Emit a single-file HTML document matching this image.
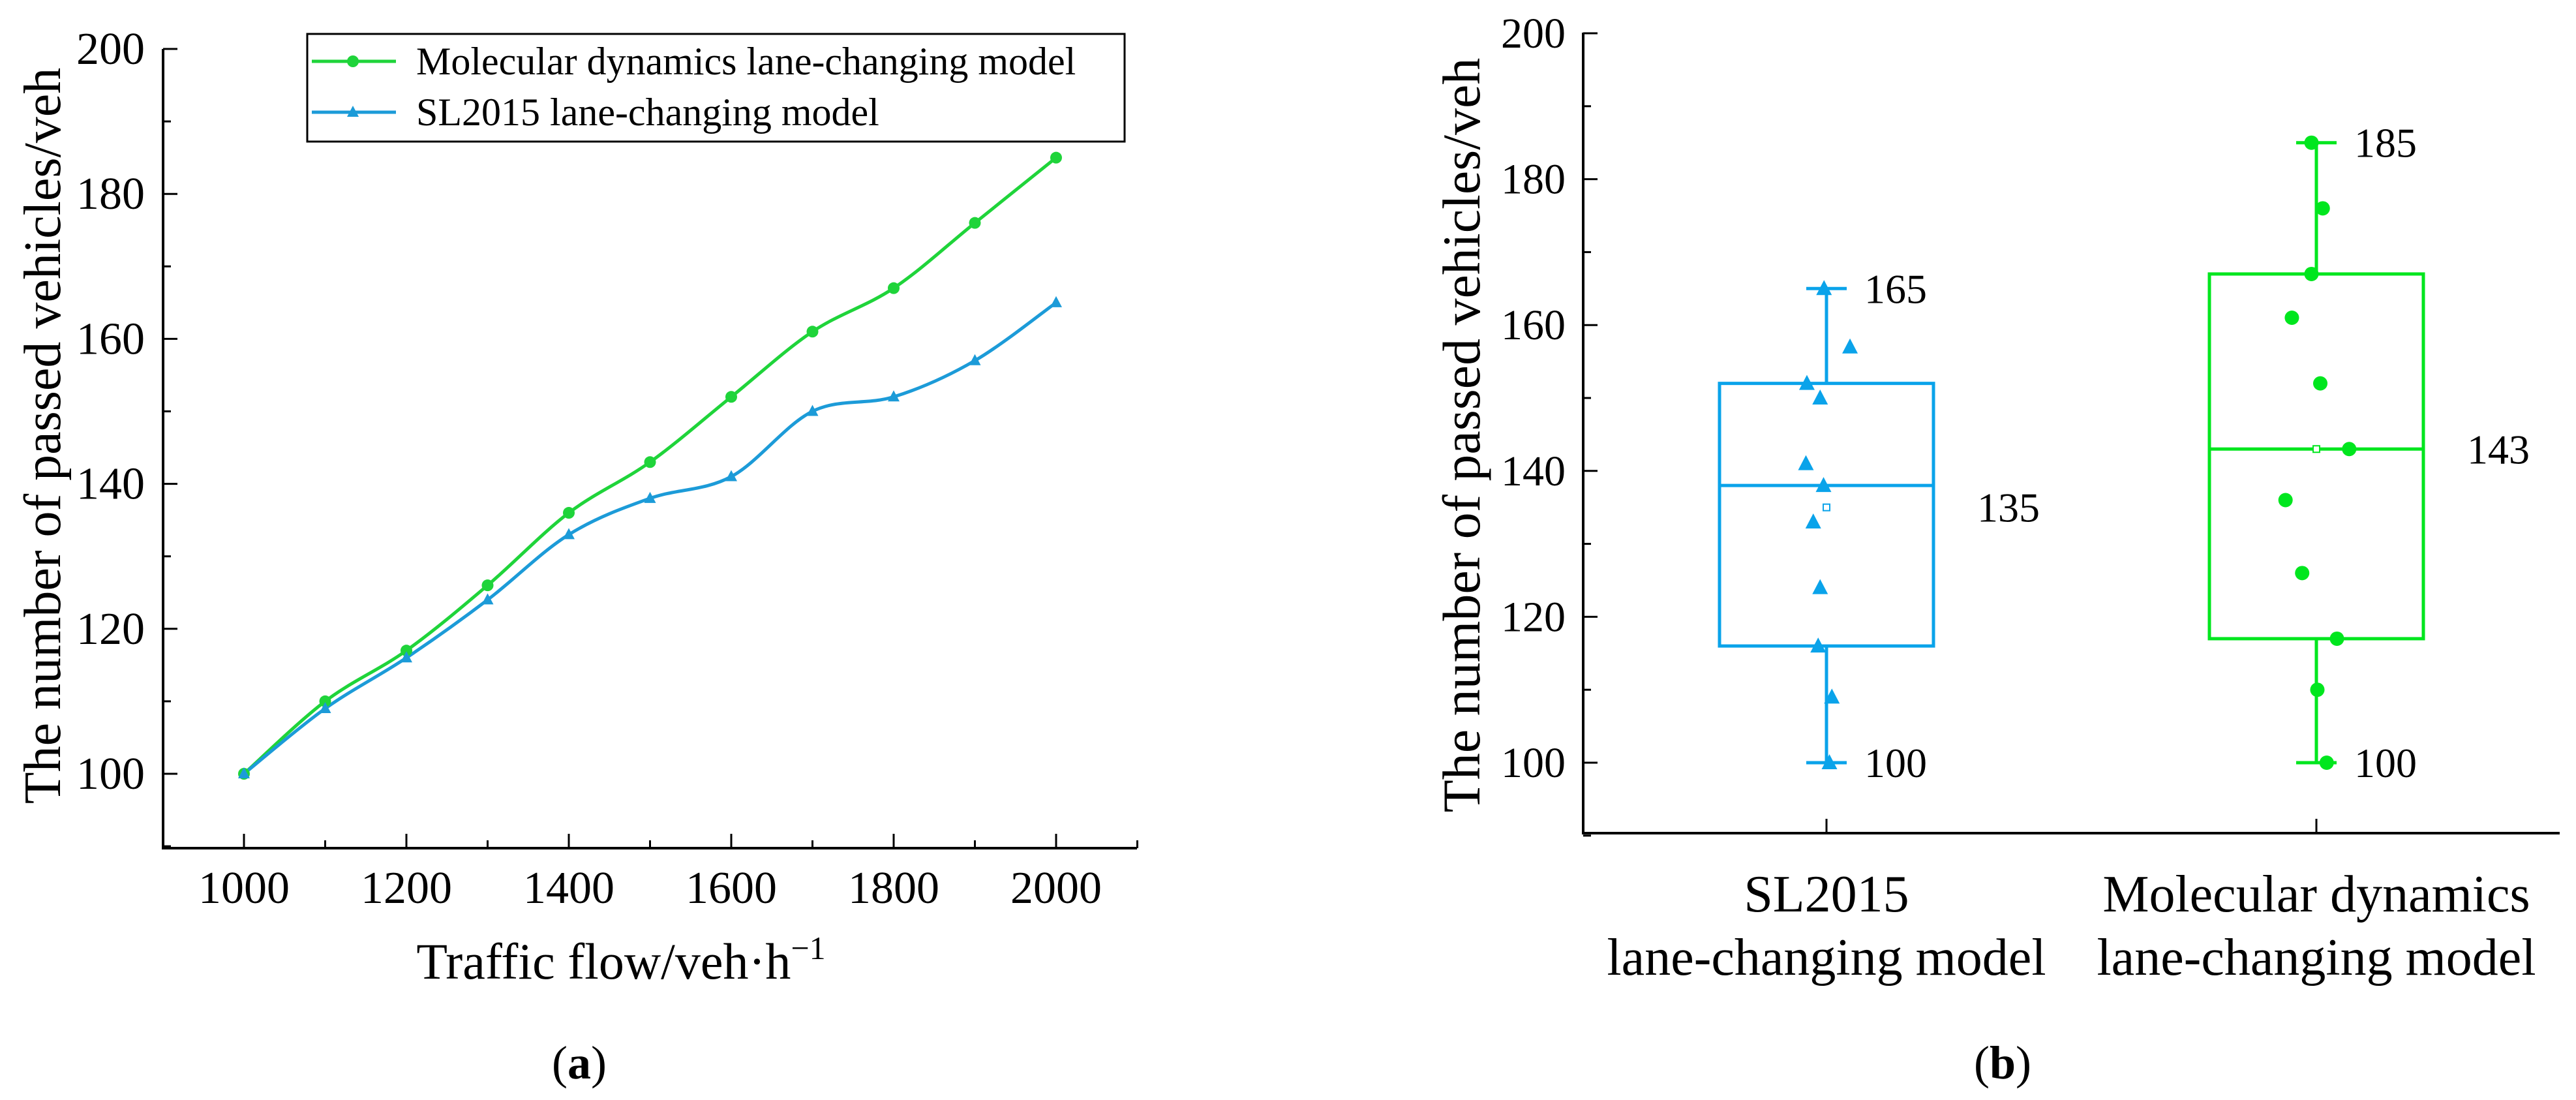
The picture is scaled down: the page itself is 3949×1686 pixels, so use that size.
<!DOCTYPE html>
<html><head><meta charset="utf-8"><style>
html,body{margin:0;padding:0;background:#fff;}
svg, svg text, svg tspan{font-family:"Liberation Serif","Times New Roman",serif !important;}
</style></head><body>
<svg id="fig" width="3949" height="1681" viewBox="0 0 3949 1681" xmlns="http://www.w3.org/2000/svg" font-family="Liberation Serif, serif">
<g id="chartA"></g>
<g id="chartB"></g>
</svg>
<script>
// ---- Chart (a) data ----
const flowValues = [1000,1100,1200,1300,1400,1500,1600,1700,1800,1900,2000];
const mdSeries = [100,110,117,126,136,143,152,161,167,176,185];
const slSeries = [100,109,116,124,133,138,141,150,152,157,165];
const xTicksA = [1000,1200,1400,1600,1800,2000];
const yTicksA = [100,120,140,160,180,200];
// ---- Chart (b) data ----
const boxCategories = ["SL2015", "Molecular dynamics"];
const boxMin = [100,100];
const boxQ1 = [116,117];
const boxMedian = [138,143];
const boxQ3 = [152,167];
const boxMax = [165,185];
const boxMean = [135,143];
const slPoints = [165,157,152,150,141,138,133,124,116,109,100];
const slJitter = [-0.005,0.048,-0.04,-0.013,-0.042,-0.006,-0.027,-0.013,-0.017,0.011,0.006];
const mdPoints = [185,176,167,161,152,143,136,126,117,110,100];
const mdJitter = [-0.01,0.013,-0.01,-0.05,0.008,0.067,-0.063,-0.029,0.042,0.002,0.021];
const yTicksB = [100,120,140,160,180,200];

const NS="http://www.w3.org/2000/svg";
function mk(parent,tag,attrs,text){const e=document.createElementNS(NS,tag);for(const k in attrs)e.setAttribute(k,attrs[k]);if(tag==='text')e.setAttribute('font-family','Liberation Serif, serif');if(text!==undefined)e.textContent=text;parent.appendChild(e);return e;}

const GREEN_A="#1fd43a", BLUE_A="#1c9bd8", GREEN_B="#00e61e", BLUE_B="#0aa3ea";

// ===== Chart A =====
(function(){
const g=document.getElementById('chartA');
const x=v=>374+(v-1000)*1.245;
const y=v=>1186-(v-100)*11.11;
let e=mk(g,'line',{x1:250,y1:75,x2:250,y2:1300,stroke:'#000','stroke-width':4});

e=mk(g,'line',{x1:248,y1:1300,x2:1743,y2:1300,stroke:'#000','stroke-width':4});

for(let v=90;v<=200;v+=10){const maj=v%20===0;mk(g,'line',{x1:250,y1:y(v),x2:250+(maj?22:12),y2:y(v),stroke:'#000','stroke-width':3});}
yTicksA.forEach(v=>{const t=mk(g,'text',{x:222,y:y(v)+23,'text-anchor':'end','font-size':70},String(v));
});
for(let v=900;v<=2100;v+=100){const maj=v%200===0;mk(g,'line',{x1:x(v),y1:1300,x2:x(v),y2:1300-(maj?22:12),stroke:'#000','stroke-width':3});}
xTicksA.forEach(v=>{const t=mk(g,'text',{x:x(v),y:1384,'text-anchor':'middle','font-size':70},String(v));
});
let t=mk(g,'text',{x:0,y:0,'text-anchor':'middle','font-size':80,transform:'translate(92,668) rotate(-90)'},'The number of passed vehicles/veh');

t=mk(g,'text',{x:952,y:1500,'text-anchor':'middle','font-size':78});

t.innerHTML='Traffic flow/veh·h<tspan dy="-30" font-size="50">−1</tspan>';
t=mk(g,'text',{x:888,y:1653,'text-anchor':'middle','font-size':72});

t.innerHTML='(<tspan font-weight="bold">a</tspan>)';
function spline(vals){const p=flowValues.map((f,i)=>[x(f),y(vals[i])]);let d='M'+p[0][0]+','+p[0][1];
for(let i=0;i<p.length-1;i++){const p0=p[Math.max(0,i-1)],p1=p[i],p2=p[i+1],p3=p[Math.min(p.length-1,i+2)];
d+=' C'+(p1[0]+(p2[0]-p0[0])/6)+','+(p1[1]+(p2[1]-p0[1])/6)+' '+(p2[0]-(p3[0]-p1[0])/6)+','+(p2[1]-(p3[1]-p1[1])/6)+' '+p2[0]+','+p2[1];}return d;}
e=mk(g,'path',{d:spline(mdSeries),fill:'none',stroke:GREEN_A,'stroke-width':5});

e=mk(g,'path',{d:spline(slSeries),fill:'none',stroke:BLUE_A,'stroke-width':5});

flowValues.forEach((f,i)=>{
 const c=mk(g,'circle',{cx:x(f),cy:y(mdSeries[i]),r:9,fill:GREEN_A});
 
 const cx=x(f),cy=y(slSeries[i]);
 const p=mk(g,'polygon',{points:(cx-9)+','+(cy+7)+' '+(cx+9)+','+(cy+7)+' '+cx+','+(cy-10),fill:BLUE_A});
 
});
const lg=mk(g,'g',{});

mk(lg,'rect',{x:471,y:52,width:1253,height:165,fill:'#fff',stroke:'#000','stroke-width':3});
mk(lg,'line',{x1:478,y1:94,x2:607,y2:94,stroke:GREEN_A,'stroke-width':5});
mk(lg,'circle',{cx:541,cy:94,r:9,fill:GREEN_A});
mk(lg,'line',{x1:478,y1:172,x2:607,y2:172,stroke:BLUE_A,'stroke-width':5});
mk(lg,'polygon',{points:'532,179 550,179 541,162',fill:BLUE_A});
t=mk(lg,'text',{x:638,y:114,'font-size':60},'Molecular dynamics lane-changing model');

t=mk(lg,'text',{x:638,y:192,'font-size':60},'SL2015 lane-changing model');

})();

// ===== Chart B =====
(function(){
const g=document.getElementById('chartB');
const x=c=>2800+(c-1)*751;
const y=v=>1169-(v-100)*11.18;
let e=mk(g,'line',{x1:2427,y1:50,x2:2427,y2:1279,stroke:'#000','stroke-width':4});

e=mk(g,'line',{x1:2425,y1:1277,x2:3924,y2:1277,stroke:'#000','stroke-width':4});

for(let v=90;v<=200;v+=10){const maj=v%20===0;mk(g,'line',{x1:2427,y1:y(v),x2:2427+(maj?22:12),y2:y(v),stroke:'#000','stroke-width':3});}
yTicksB.forEach(v=>{const t=mk(g,'text',{x:2400,y:y(v)+22,'text-anchor':'end','font-size':66},String(v));
});
let t=mk(g,'text',{x:0,y:0,'text-anchor':'middle','font-size':82,transform:'translate(2268,667) rotate(-90)'},'The number of passed vehicles/veh');

const line2=["lane-changing model","lane-changing model"];
const cols=[BLUE_B,GREEN_B];
const pts=[slPoints,mdPoints], jit=[slJitter,mdJitter];
boxCategories.forEach((cat,i)=>{
 const cx=x(i+1), col=cols[i], hw=164;
 mk(g,'line',{x1:cx,y1:1277,x2:cx,y2:1255,stroke:'#000','stroke-width':3});
 t=mk(g,'text',{x:cx,y:1397,'text-anchor':'middle','font-size':80},cat);
 
 t=mk(g,'text',{x:cx,y:1494,'text-anchor':'middle','font-size':80},line2[i]);
 
 const bg=mk(g,'g',{});
 
 mk(bg,'line',{x1:cx,y1:y(boxMax[i]),x2:cx,y2:y(boxQ3[i]),stroke:col,'stroke-width':5});
 mk(bg,'line',{x1:cx,y1:y(boxQ1[i]),x2:cx,y2:y(boxMin[i]),stroke:col,'stroke-width':5});
 mk(bg,'line',{x1:cx-31,y1:y(boxMax[i]),x2:cx+31,y2:y(boxMax[i]),stroke:col,'stroke-width':5});
 mk(bg,'line',{x1:cx-31,y1:y(boxMin[i]),x2:cx+31,y2:y(boxMin[i]),stroke:col,'stroke-width':5});
 mk(bg,'rect',{x:cx-hw,y:y(boxQ3[i]),width:2*hw,height:y(boxQ1[i])-y(boxQ3[i]),fill:'none',stroke:col,'stroke-width':5});
 mk(bg,'line',{x1:cx-hw,y1:y(boxMedian[i]),x2:cx+hw,y2:y(boxMedian[i]),stroke:col,'stroke-width':5});
 mk(bg,'rect',{x:cx-5,y:y(boxMean[i])-5,width:10,height:10,fill:'#fff',stroke:col,'stroke-width':2});
 pts[i].forEach((v,k)=>{
  const px=x(i+1+jit[i][k]), py=y(v);
  let m;
  if(i===0){m=mk(g,'polygon',{points:(px-12)+','+(py+10)+' '+(px+12)+','+(py+10)+' '+px+','+(py-13),fill:col});}
  else{m=mk(g,'circle',{cx:px,cy:py,r:11,fill:col});}
  
 });
 t=mk(g,'text',{x:cx+58,y:y(boxMax[i])+22,'font-size':64},String(boxMax[i]));
 
 t=mk(g,'text',{x:cx+58,y:y(boxMin[i])+22,'font-size':64},String(boxMin[i]));
 
 t=mk(g,'text',{x:cx+231,y:y(boxMean[i])+22,'font-size':64},String(boxMean[i]));
 
});
t=mk(g,'text',{x:3070,y:1653,'text-anchor':'middle','font-size':72});

t.innerHTML='(<tspan font-weight="bold">b</tspan>)';
})();
</script>
</body></html>
